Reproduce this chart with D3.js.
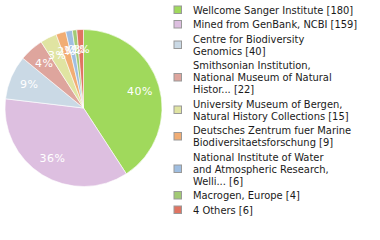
<!DOCTYPE html>
<html lang="en">
<head>
<meta charset="UTF-8">
<title>Pie</title>
<script src="https://d3js.org/d3.v7.min.js"></script>
<style>
    body { margin: 0; background: #fff; }
    svg { display: block; }
    .label { fill: #fff; font-family: "DejaVu Sans", sans-serif; font-size: 11px; letter-spacing: 0.5px; text-anchor: middle; dominant-baseline: central; }
    .legend text { fill: #1a1a1a; font-family: "DejaVu Sans Condensed", "DejaVu Sans", sans-serif; font-size: 11px; }
</style>
</head>
<body>
<svg id="chart" width="380" height="240"></svg>
<script>
    // data
    const names = [
        ["Wellcome Sanger Institute [180]"],
        ["Mined from GenBank, NCBI [159]"],
        ["Centre for Biodiversity", "Genomics [40]"],
        ["Smithsonian Institution,", "National Museum of Natural", "Histor... [22]"],
        ["University Museum of Bergen,", "Natural History Collections [15]"],
        ["Deutsches Zentrum fuer Marine", "Biodiversitaetsforschung [9]"],
        ["National Institute of Water", "and Atmospheric Research,", "Welli... [6]"],
        ["Macrogen, Europe [4]"],
        ["4 Others [6]"]
    ];
    const counts = [180, 159, 40, 22, 15, 9, 6, 4, 6];
    const colors = ["#a0d95c", "#ddbfe0", "#cad9e5", "#dea59d", "#e0e4a2", "#f1ad74", "#9fbee1", "#a2ca74", "#e07462"];

    const svg = d3.select("#chart");
    const cx = 83.5, cy = 108, r = 78.5;
    const total = d3.sum(counts);

    const pie = d3.pie().sort(null).value(d => d)(counts);
    const arc = d3.arc().innerRadius(0).outerRadius(r);
    const labelArc = d3.arc().innerRadius(59).outerRadius(59);

    const g = svg.append("g").attr("transform", `translate(${cx},${cy})`);
    g.selectAll("path")
        .data(pie)
        .enter().append("path")
        .attr("d", arc)
        .attr("fill", (d, i) => colors[i])
        .attr("stroke", "#fff")
        .attr("stroke-width", 0.6);

    g.selectAll(".label")
        .data(pie)
        .enter().append("text")
        .attr("class", "label")
        .attr("transform", d => `translate(${labelArc.centroid(d)})`)
        .text(d => Math.floor(d.value / total * 100) + "%");

    // legend
    const lineH = 12, gap = 2.5;
    let y = 10;
    const legend = svg.append("g").attr("class", "legend");
    names.forEach((lines, i) => {
        const mid = y + (lines.length - 1) * lineH / 2;
        legend.append("rect")
            .attr("x", 174).attr("y", mid - 4)
            .attr("width", 7.5).attr("height", 7.5)
            .attr("fill", colors[i])
            .attr("stroke", "#999").attr("stroke-width", 1);
        const t = legend.append("text").attr("x", 193);
        lines.forEach((s, j) => {
            t.append("tspan").attr("x", 193).attr("y", y + j * lineH).attr("dy", "0.35em").text(s);
        });
        y += lines.length * lineH + gap;
    });
</script>
</body>
</html>
